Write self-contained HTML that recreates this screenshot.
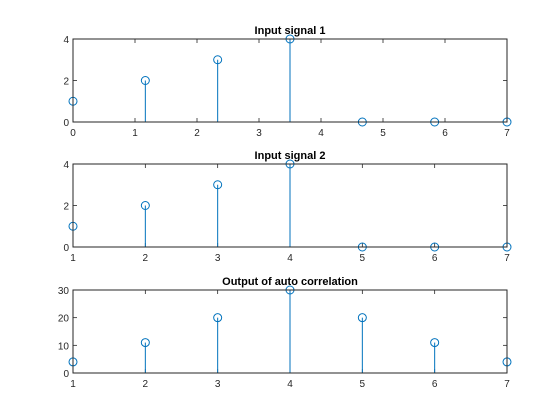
<!DOCTYPE html>
<html><head><meta charset="utf-8"><style>
body{margin:0;background:#fff;}
svg{display:block;font-family:"Liberation Sans",sans-serif;}
</style></head><body>
<svg id="fig" width="560" height="420"></svg>
<script>
const x1 = [0, 7/6, 14/6, 3.5, 28/6, 35/6, 7];
const y1 = [1, 2, 3, 4, 0, 0, 0];
const x2 = [1, 2, 3, 4, 5, 6, 7];
const y2 = [1, 2, 3, 4, 0, 0, 0];
const x3 = [1, 2, 3, 4, 5, 6, 7];
const y3 = [4, 11, 20, 30, 20, 11, 4];
const xt1 = [0,1,2,3,4,5,6,7];
const xt2 = [1,2,3,4,5,6,7];
const yt1 = [0,2,4];
const yt3 = [0,10,20,30];
const titles = ["Input signal 1","Input signal 2","Output of auto correlation"];
const NS="http://www.w3.org/2000/svg";
const svg=document.getElementById('fig');
function mk(t,a,p){const e=document.createElementNS(NS,t);for(const k in a)e.setAttribute(k,a[k]);(p||svg).appendChild(e);return e;}
function panel(i,top,bot,xmin,xmax,ymin,ymax,xs,ys,xt,yt,title){
  const L=73,R=507;
  const g=mk('g',{});
  
  
  const X=v=>L+(v-xmin)/(xmax-xmin)*(R-L);
  const Y=v=>bot-(v-ymin)/(ymax-ymin)*(bot-top);
  const t=mk('text',{x:(L+R)/2,y:top-5,'text-anchor':'middle','font-size':11,'font-weight':'bold',fill:'#000'},g);
  t.textContent=title;
  
  
  xt.forEach(v=>{
    mk('line',{x1:X(v),x2:X(v),y1:bot,y2:bot-4,stroke:'#262626','stroke-width':0.8},g);
    mk('line',{x1:X(v),x2:X(v),y1:top,y2:top+4,stroke:'#262626','stroke-width':0.8},g);
    const tx=mk('text',{x:X(v),y:bot+14,'text-anchor':'middle','font-size':10,fill:'#262626'},g);
    tx.textContent=v;
    
    
  });
  yt.forEach(v=>{
    mk('line',{x1:L,x2:L+4,y1:Y(v),y2:Y(v),stroke:'#262626','stroke-width':0.8},g);
    mk('line',{x1:R,x2:R-4,y1:Y(v),y2:Y(v),stroke:'#262626','stroke-width':0.8},g);
    const ty=mk('text',{x:L-4,y:Y(v)+4,'text-anchor':'end','font-size':10,fill:'#262626'},g);
    ty.textContent=v;
    
    
  });
  xs.forEach((v,j)=>{
    const s=mk('line',{x1:X(v),x2:X(v),y1:Y(0),y2:Y(ys[j]),stroke:'#0072BD','stroke-width':1},g);
    
    
    const c=mk('circle',{cx:X(v),cy:Y(ys[j]),r:4,fill:'none',stroke:'#0072BD','stroke-width':1},g);
    
    
  });
  const b=mk('rect',{x:L,y:top,width:R-L,height:bot-top,fill:'none',stroke:'#262626','stroke-width':1},g);
  
  
}
panel(0,39,122,0,7,0,4,x1,y1,xt1,yt1,titles[0]);
panel(1,164,247,1,7,0,4,x2,y2,xt2,yt1,titles[1]);
panel(2,290,373,1,7,0,30,x3,y3,xt2,yt3,titles[2]);
</script>
</body></html>
